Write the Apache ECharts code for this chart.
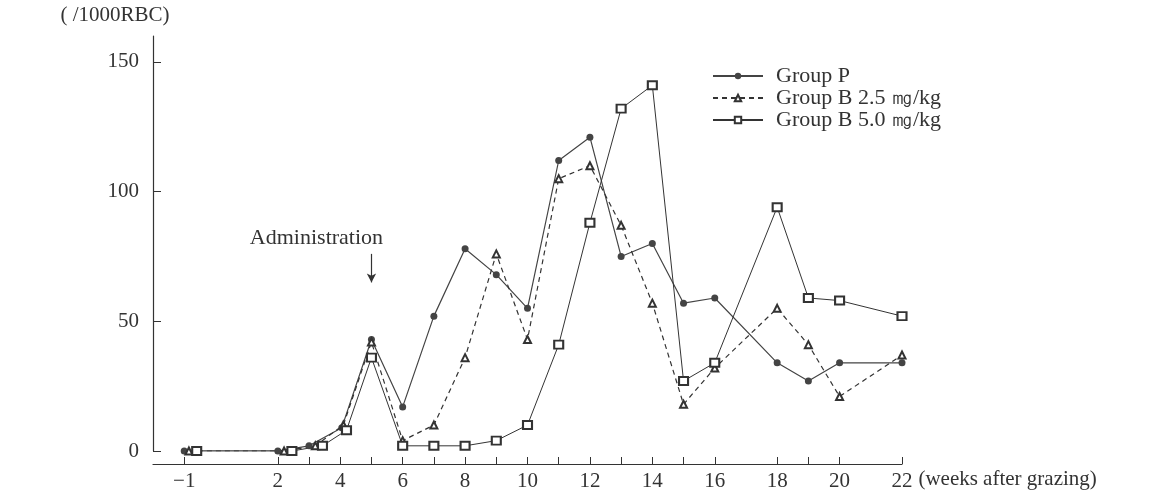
<!DOCTYPE html>
<html>
<head>
<meta charset="utf-8">
<script src="https://cdn.jsdelivr.net/npm/echarts@6/dist/echarts.min.js"></script>
<style>
  html, body { margin: 0; padding: 0; background: #fff; }
  #chart { width: 1159px; height: 499px; }
</style>
</head>
<body>
<div id="chart"></div>
<script>
// weeks after grazing (early points are drawn slightly apart, as in the original)
const weeksP = [-1, 2, 3, 4.05, 5, 6, 7, 8, 9, 10, 11, 12, 13, 14, 15, 16, 18, 19, 20, 22]
const valuesP = [0, 0, 2, 9, 43, 17, 52, 78, 68, 55, 112, 121, 75, 80, 57, 59, 34, 27, 34, 34]

const weeksB25 = [-0.85, 2.2, 3.2, 4.1, 5, 6, 7, 8, 9, 10, 11, 12, 13, 14, 15, 16, 18, 19, 20, 22]
const valuesB25 = [0, 0, 2, 10, 42, 4, 10, 36, 76, 43, 105, 110, 87, 57, 18, 32, 55, 41, 21, 37]

const weeksB50 = [-0.6, 2.45, 3.43, 4.2, 5, 6, 7, 8, 9, 10, 11, 12, 13, 14, 15, 16, 18, 19, 20, 22]
const valuesB50 = [0, 0, 2, 8, 36, 2, 2, 2, 4, 10, 41, 88, 132, 141, 27, 34, 94, 59, 58, 52]

const seriesNames = ['Group P', 'Group B 2.5 ㎎/kg', 'Group B 5.0 ㎎/kg']
const xTicks = [-1, 2, 3, 4, 5, 6, 7, 8, 9, 10, 11, 12, 13, 14, 15, 16, 18, 19, 20, 22]
const xLabels = [-1, 2, 4, 6, 8, 10, 12, 14, 16, 18, 20, 22]
const yTicks = [0, 50, 100, 150]

const ink = '#333'
const font = 'Liberation Serif'

function pairs(xs, ys) {
  return xs.map(function(x, i) { return [x, ys[i]] })
}

const chart = echarts.init(document.getElementById('chart'))
chart.setOption({
  backgroundColor: '#fff',
  animation: false,
  textStyle: { fontFamily: font, color: ink },
  grid: { left: 153, right: 257, top: 36, bottom: 48 },
  legend: {
    orient: 'vertical',
    left: 707,
    top: 60,
    itemWidth: 50,
    itemHeight: 8,
    itemGap: 0,
    data: seriesNames,
    textStyle: { fontFamily: font, fontSize: 22, lineHeight: 22, color: ink, padding: [0, 0, 0, 8] }
  },
  xAxis: {
    type: 'value',
    min: -2,
    max: 22,
    offset: 13,
    name: '(weeks after grazing)',
    nameLocation: 'end',
    nameGap: 13,
    nameTextStyle: { fontFamily: font, fontSize: 21, color: ink, verticalAlign: 'top', padding: [5, 0, 0, 0] },
    splitLine: { show: false },
    axisLine: { onZero: false, lineStyle: { color: ink, width: 1.2 } },
    axisTick: { inside: true, length: 7, customValues: xTicks, lineStyle: { color: ink } },
    axisLabel: {
      customValues: xLabels,
      fontFamily: font,
      fontSize: 21,
      color: ink,
      margin: 7,
      formatter: function(v) { return v < 0 ? '\u2212' + Math.abs(v) : String(v) }
    }
  },
  yAxis: {
    type: 'value',
    min: 0,
    max: 160,
    name: '( /1000RBC)',
    nameLocation: 'end',
    nameGap: 10,
    nameTextStyle: { fontFamily: font, fontSize: 21, color: ink, padding: [0, 76, 0, 0] },
    splitLine: { show: false },
    axisLine: { show: true, onZero: false, lineStyle: { color: ink, width: 1.2 } },
    axisTick: { show: true, inside: true, length: 8, customValues: yTicks, lineStyle: { color: ink } },
    axisLabel: { customValues: yTicks, fontFamily: font, fontSize: 21, color: ink, margin: 14 }
  },
  series: [
    {
      name: seriesNames[0],
      type: 'line',
      data: pairs(weeksP, valuesP),
      symbol: 'circle',
      symbolSize: 7,
      itemStyle: { color: '#444' },
      lineStyle: { color: '#444', width: 1.2 },
      markLine: {
        silent: true,
        symbol: ['none', 'arrow'],
        symbolSize: [7, 9],
        label: { show: false },
        lineStyle: { color: ink, width: 1.2, type: 'solid' },
        data: [[{ coord: [5, 76] }, { coord: [5, 65] }]]
      },
      markPoint: {
        silent: true,
        symbol: 'circle',
        symbolSize: 0,
        data: [{ coord: [5, 82] }],
        label: {
          show: true,
          formatter: 'Administration',
          offset: [-55, 0],
          fontFamily: font,
          fontSize: 22,
          color: ink
        }
      }
    },
    {
      name: seriesNames[1],
      type: 'line',
      data: pairs(weeksB25, valuesB25),
      symbol: 'emptyTriangle',
      symbolSize: 7,
      itemStyle: { color: ink },
      lineStyle: { color: ink, width: 1.2, type: [5, 4] }
    },
    {
      name: seriesNames[2],
      type: 'line',
      data: pairs(weeksB50, valuesB50),
      symbol: 'emptyRect',
      symbolSize: [9, 8],
      itemStyle: { color: ink },
      lineStyle: { color: ink, width: 1 }
    }
  ]
})
</script>
</body>
</html>
